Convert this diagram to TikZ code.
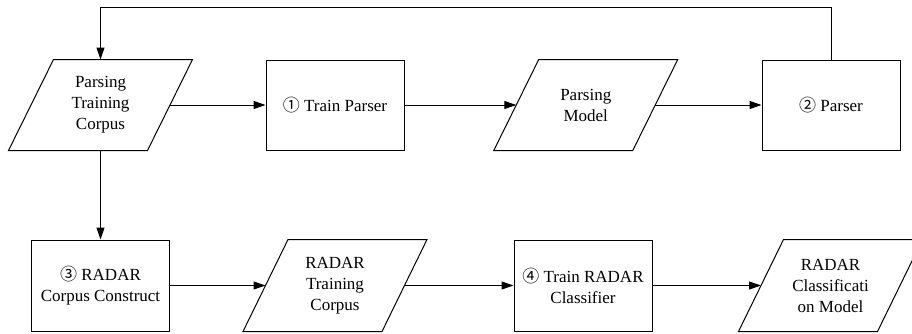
\documentclass[tikz,border=0pt]{standalone}
\usepackage{fontspec}
\setmainfont{Liberation Serif}
\newfontfamily\txtfont{Liberation Serif}
\newfontfamily\circfont{Noto Sans CJK SC}
\usetikzlibrary{arrows.meta}
\newcommand{\cnum}[1]{{\circfont #1}}
\begin{document}
\begin{tikzpicture}[x=1pt,y=1pt,
 line width=1pt,
 box/.style={draw, minimum width=138pt, minimum height=90pt, inner sep=0pt, align=center, font=\txtfont\fontsize{17}{21}\selectfont},
 databox/.style={box, draw=none},
 conn/.style={-{Triangle[length=12pt,width=8pt]}}]
\useasboundingbox (0,0) rectangle (912,333);
\clip (0,0) rectangle (912,333);
\node[databox] (ptc) at (100.5,228) {Parsing\\Training\\Corpus};
\node[box] (tp) at (335,228) {\cnum{①} Train Parser};
\node[databox] (pm) at (585.75,228) {Parsing\\Model};
\node[box] (pa) at (831,228) {\cnum{②} Parser};
\node[box, minimum height=91pt] (cc) at (100.5,47.5) {\cnum{③} RADAR\\Corpus Construct};
\node[databox, minimum height=91pt] (rtc) at (335,47.5) {RADAR\\Training\\Corpus};
\node[box, minimum height=91pt] (trc) at (583,47.5) {\cnum{④} Train RADAR\\Classifier};
\node[databox, minimum height=91pt] (rcm) at (830.5,47.5) {RADAR\\Classificati\\on Model};
\foreach \n in {ptc,pm,rtc,rcm}
  \draw ([xshift=22.5pt]\n.north west) -- ([xshift=22.5pt]\n.north east) -- ([xshift=-22.5pt]\n.south east) -- ([xshift=-22.5pt]\n.south west) -- cycle;
\coordinate (fbr) at (831,325);
\coordinate (fbl) at (100.5,325);
\draw[conn] (ptc.east) -- (tp.west);
\draw[conn] (tp.east) -- (pm.west);
\draw[conn] (pm.east) -- (pa.west);
\draw[conn] (pa.north) -- (fbr) -- (fbl) -- (ptc.north);
\draw[conn] (ptc.south) -- (cc.north);
\draw[conn] (cc.east) -- (rtc.west);
\draw[conn] (rtc.east) -- (trc.west);
\draw[conn] (trc.east) -- (rcm.west);
\end{tikzpicture}
\end{document}
